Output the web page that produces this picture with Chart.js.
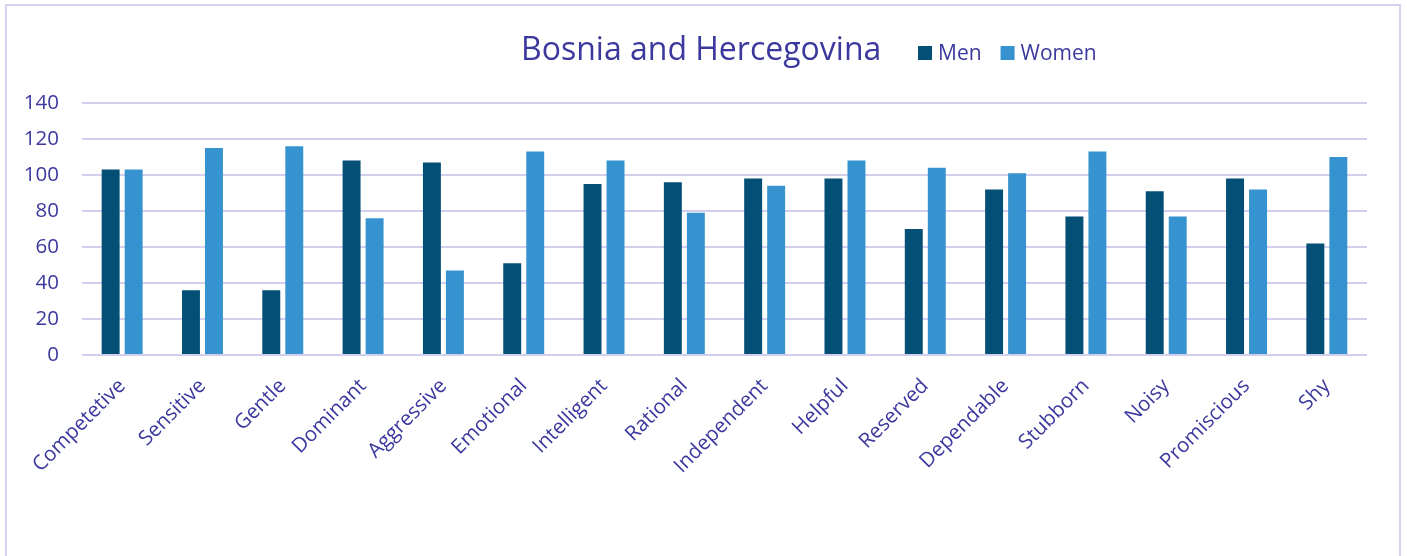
<!DOCTYPE html>
<html>
<head>
<meta charset="utf-8">
<script src="https://cdn.jsdelivr.net/npm/chart.js@4.4.1/dist/chart.umd.min.js"></script>
<style>
  html, body { margin: 0; padding: 0; background: #ffffff; }
  #wrap { position: relative; width: 1407px; height: 556px; overflow: hidden; }
  #frame {
    position: absolute; left: 5px; top: 4px; width: 1396px; height: 620px;
    border: 2px solid #d5d1f1; box-sizing: border-box;
  }
  canvas { position: absolute; left: 0; top: 0; }
</style>
</head>
<body>
<div id="wrap">
  <div id="frame"></div>
  <canvas id="chart" width="1407" height="556"></canvas>
</div>
<script>
// Chart content
const chartTitle = 'Bosnia and Hercegovina';
const categories = [
  'Competetive', 'Sensitive', 'Gentle', 'Dominant', 'Aggressive', 'Emotional',
  'Intelligent', 'Rational', 'Independent', 'Helpful', 'Reserved', 'Dependable',
  'Stubborn', 'Noisy', 'Promiscious', 'Shy'
];
const seriesNames = ['Men', 'Women'];
const menValues   = [103, 36, 36, 108, 107, 51, 95, 96, 98, 98, 70, 92, 77, 91, 98, 62];
const womenValues = [103, 115, 116, 76, 47, 113, 108, 79, 94, 108, 104, 101, 113, 77, 92, 110];
const yTicks = [0, 20, 40, 60, 80, 100, 120, 140];

const TEXT = '#3b399e';
const GRID = '#d2ceee';
const FONT = '"Open Sans", Lato, sans-serif';

// Title with an inline legend on the same line
const headerPlugin = {
  id: 'header',
  afterDraw(chart) {
    const ctx = chart.ctx;
    ctx.save();
    ctx.fillStyle = TEXT;
    ctx.textBaseline = 'alphabetic';
    ctx.textAlign = 'left';
    ctx.font = '32px ' + FONT;
    ctx.fillText(chartTitle, 521, 60);

    ctx.font = '21px ' + FONT;
    let x = 918;
    chart.data.datasets.forEach((ds) => {
      ctx.fillStyle = ds.backgroundColor;
      ctx.fillRect(x, 46, 14, 14);
      ctx.fillStyle = TEXT;
      ctx.fillText(ds.label, x + 20, 60);
      x += 20 + ctx.measureText(ds.label).width + 19;
    });
    ctx.restore();
  }
};

new Chart(document.getElementById('chart'), {
  type: 'bar',
  data: {
    labels: categories,
    datasets: [
      { label: seriesNames[0], data: menValues, backgroundColor: '#044f75' },
      { label: seriesNames[1], data: womenValues, backgroundColor: '#3793cf' }
    ]
  },
  options: {
    responsive: false,
    animation: false,
    devicePixelRatio: 1,
    layout: { padding: { top: 103, right: 40, left: 0, bottom: 0 } },
    datasets: {
      bar: { categoryPercentage: 0.573, barPercentage: 0.78 }
    },
    plugins: {
      legend: { display: false },
      title: { display: false },
      tooltip: { enabled: false }
    },
    scales: {
      x: {
        grid: { display: false },
        border: { display: false },
        ticks: {
          color: TEXT,
          font: { family: FONT, size: 20.5 },
          minRotation: 45,
          maxRotation: 45,
          autoSkip: false,
          padding: 11
        },
        afterFit(scale) { scale.height = 201; }
      },
      y: {
        min: 0,
        max: 140,
        afterBuildTicks(scale) { scale.ticks = yTicks.map(v => ({ value: v })); },
        grid: { color: GRID, lineWidth: 2, drawTicks: false },
        border: { display: false },
        ticks: {
          color: TEXT,
          font: { family: FONT, size: 20.5 },
          padding: 23
        },
        afterFit(scale) { scale.width = 82; }
      }
    }
  },
  plugins: [headerPlugin]
});
</script>
</body>
</html>
